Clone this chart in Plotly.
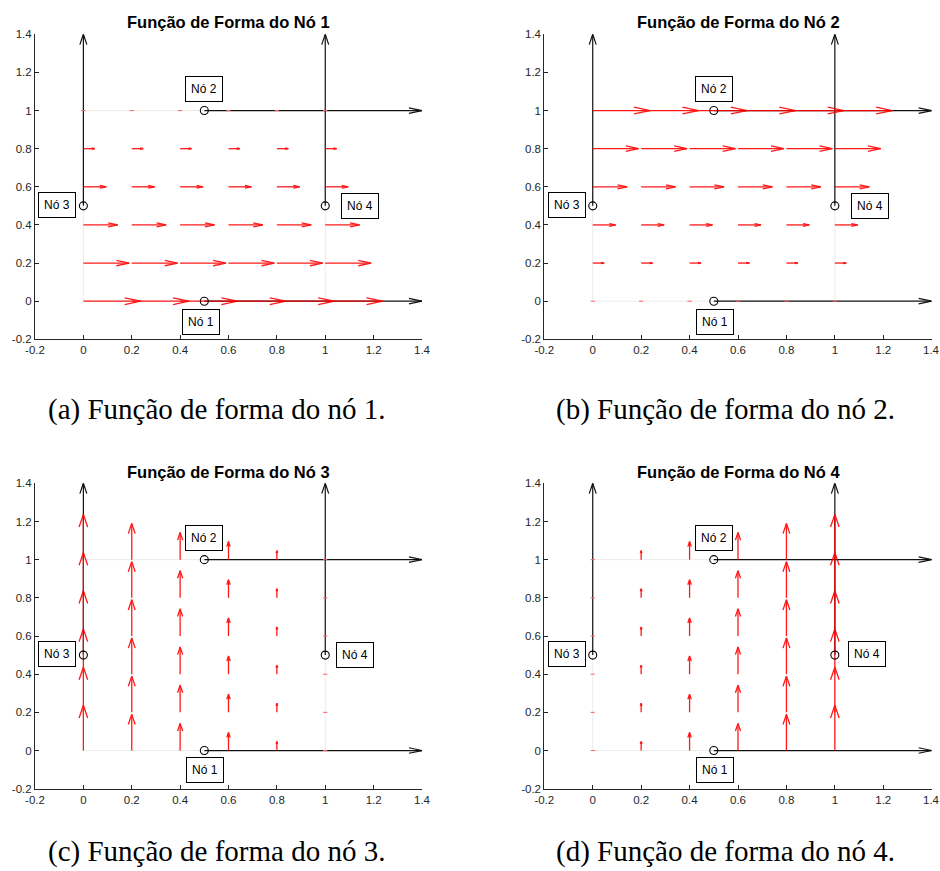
import math
import plotly.graph_objects as go

# ---------------- data ----------------
grid_x = [0.0, 0.2, 0.4, 0.6, 0.8, 1.0]
grid_y = [0.0, 0.2, 0.4, 0.6, 0.8, 1.0]

# magnitude of the shape-function field
n1_u_by_row = [1.0, 0.8, 0.6, 0.4, 0.2, 0.0]   # horizontal field, varies with y
n2_u_by_row = [0.0, 0.2, 0.4, 0.6, 0.8, 1.0]   # horizontal field, varies with y
n3_v_by_col = [1.0, 0.8, 0.6, 0.4, 0.2, 0.0]   # vertical field, varies with x
n4_v_by_col = [0.0, 0.2, 0.4, 0.6, 0.8, 1.0]   # vertical field, varies with x

node_names = ["Nó 1", "Nó 2", "Nó 3", "Nó 4"]
node_x = [0.5, 0.5, 0.0, 1.0]
node_y = [0.0, 1.0, 0.5, 0.5]

# black reference arrows (start point and components)
ref_x0 = [0.0, 1.0, 0.5, 0.5]
ref_y0 = [0.5, 0.5, 1.0, 0.0]
ref_u = [0.0, 0.0, 0.9, 0.9]
ref_v = [0.9, 0.9, 0.0, 0.0]

# element boundary
elem_x = [0.0, 1.0, 1.0, 0.0, 0.0]
elem_y = [0.0, 0.0, 1.0, 1.0, 0.0]

titles = ["Função de Forma do Nó 1", "Função de Forma do Nó 2",
          "Função de Forma do Nó 3", "Função de Forma do Nó 4"]
captions = ["(a) Função de forma do nó 1.", "(b) Função de forma do nó 2.",
            "(c) Função de forma do nó 3.", "(d) Função de forma do nó 4."]

tick_vals = [-0.2, 0.0, 0.2, 0.4, 0.6, 0.8, 1.0, 1.2, 1.4]
tick_text = ["-0.2", "0", "0.2", "0.4", "0.6", "0.8", "1", "1.2", "1.4"]

# ---------------- helpers ----------------
W, H = 940, 871
QSCALE = 0.237


def build_field(kind, mags):
    X, Y, U, V = [], [], [], []
    for j, yv in enumerate(grid_y):
        for i, xv in enumerate(grid_x):
            X.append(xv)
            Y.append(yv)
            if kind == "row":
                U.append(mags[j]); V.append(0.0)
            else:
                U.append(0.0); V.append(mags[i])
    return X, Y, U, V


def arrow_lines(X, Y, U, V, scale, hl, hw):
    xs, ys, zx, zy = [], [], [], []
    for x0, y0, u, v in zip(X, Y, U, V):
        m = math.hypot(u, v)
        if m == 0:
            zx.append(x0); zy.append(y0)
            continue
        L = m * scale
        dx, dy = u / m, v / m
        tx, ty = x0 + dx * L, y0 + dy * L
        bx, by = tx - hl * L * dx, ty - hl * L * dy
        px, py = -dy, dx
        xs += [x0, tx, None, bx + hw * L * px, tx, bx - hw * L * px, None]
        ys += [y0, ty, None, by + hw * L * py, ty, by - hw * L * py, None]
    return xs, ys, zx, zy


fields = [build_field("row", n1_u_by_row), build_field("row", n2_u_by_row),
          build_field("col", n3_v_by_col), build_field("col", n4_v_by_col)]

# panel domains (paper fractions)
xdom = [[35 / W, 422 / W], [544.3 / W, 931.7 / W]]
ydom = [[1 - 339.3 / H, 1 - 34.3 / H], [1 - 788.7 / H, 1 - 483.3 / H]]

# label box centres per panel (data coords): Nó1, Nó2, Nó3, Nó4
label_pos = [
    [(0.486, -0.109), (0.50, 1.112), (-0.108, 0.503), (1.143, 0.498)],
    [(0.506, -0.110), (0.502, 1.112), (-0.108, 0.503), (1.144, 0.500)],
    [(0.503, -0.103), (0.500, 1.114), (-0.108, 0.505), (1.121, 0.501)],
    [(0.506, -0.103), (0.502, 1.114), (-0.108, 0.505), (1.133, 0.505)],
]

fig = go.Figure()
annotations = []
AX = "#262626"
TICKFONT = dict(family="Liberation Sans, Arial", size=11.5, color=AX)

for k in range(4):
    r, c = divmod(k, 2)
    sfx = "" if k == 0 else str(k + 1)
    xa, ya = "x" + sfx, "y" + sfx

    # element boundary (faint)
    fig.add_trace(go.Scatter(x=elem_x, y=elem_y, mode="lines", xaxis=xa, yaxis=ya,
                             line=dict(color="#ececec", width=1), hoverinfo="skip",
                             showlegend=False))
    # black reference arrows
    bx, by, _, _ = arrow_lines(ref_x0, ref_y0, ref_u, ref_v, 1.0, 0.06, 0.016)
    fig.add_trace(go.Scatter(x=bx, y=by, mode="lines", xaxis=xa, yaxis=ya,
                             line=dict(color="#111111", width=1.2), hoverinfo="skip",
                             showlegend=False))
    # red quiver
    X, Y, U, V = fields[k]
    qx, qy, zx, zy = arrow_lines(X, Y, U, V, QSCALE, 0.28, 0.075)
    fig.add_trace(go.Scatter(x=qx, y=qy, mode="lines", xaxis=xa, yaxis=ya,
                             line=dict(color="#ff0000", width=1.3), opacity=0.9,
                             hoverinfo="skip", showlegend=False))
    fig.add_trace(go.Scatter(x=zx, y=zy, mode="markers", xaxis=xa, yaxis=ya,
                             marker=dict(symbol="line-ew", size=3, color="#ff6060",
                                         line=dict(color="#ff6060", width=1)),
                             hoverinfo="skip", showlegend=False))
    # node circles
    fig.add_trace(go.Scatter(x=node_x, y=node_y, mode="markers", xaxis=xa, yaxis=ya,
                             marker=dict(symbol="circle-open", size=8, color="#000000",
                                         line=dict(color="#000000", width=1.1)),
                             hoverinfo="skip", showlegend=False))

    axis_common = dict(range=[-0.2, 1.4], tickvals=tick_vals,
                       showgrid=False, zeroline=False, showline=True, linecolor=AX,
                       linewidth=1, ticks="inside", ticklen=4, tickcolor=AX,
                       tickfont=TICKFONT, mirror=False, fixedrange=True, automargin=False)
    xt = list(tick_text)
    if c == 1:
        xt[-1] = ""   # drawn separately (near the page edge)
    fig.layout["xaxis" + sfx] = dict(domain=xdom[c], anchor=ya, ticktext=xt, **axis_common)
    fig.layout["yaxis" + sfx] = dict(domain=ydom[r], anchor=xa, ticktext=tick_text, **axis_common)

    if c == 1:
        annotations.append(dict(x=tick_vals[-1], y=tick_vals[0], xref=xa, yref=ya,
                                text=tick_text[-1], showarrow=False, xanchor="center",
                                yanchor="top", yshift=-3, font=TICKFONT))

    # label boxes
    for name, (lx, ly) in zip(node_names, label_pos[k]):
        annotations.append(dict(x=lx, y=ly, xref=xa, yref=ya, text=name, showarrow=False,
                                font=dict(family="Liberation Sans, Arial", size=12, color="#000"),
                                bordercolor="#000", borderwidth=1, borderpad=5,
                                bgcolor="white", xanchor="center", yanchor="middle"))

    # title
    tcx = (xdom[c][0] + xdom[c][1]) / 2
    tcy = 1 - (22.5 if r == 0 else 471.7) / H
    annotations.append(dict(x=tcx, y=tcy, xref="paper", yref="paper", text="<b>" + titles[k] + "</b>",
                            showarrow=False, xanchor="center", yanchor="middle",
                            font=dict(family="Liberation Sans, Arial", size=16.5, color="#000")))
    # caption
    ccx = (216 if c == 0 else 725) / W
    ccy = 1 - (409 if r == 0 else 851) / H
    annotations.append(dict(x=ccx, y=ccy, xref="paper", yref="paper", text=captions[k],
                            showarrow=False, xanchor="center", yanchor="middle",
                            font=dict(family="Liberation Serif, Times New Roman, serif",
                                      size=29, color="#000")))

fig.update_layout(width=W, height=H, margin=dict(l=0, r=0, t=0, b=0, pad=0, autoexpand=False),
                  paper_bgcolor="white", plot_bgcolor="white",
                  annotations=annotations, showlegend=False)

fig.write_html("out.html", config={"displayModeBar": False})
